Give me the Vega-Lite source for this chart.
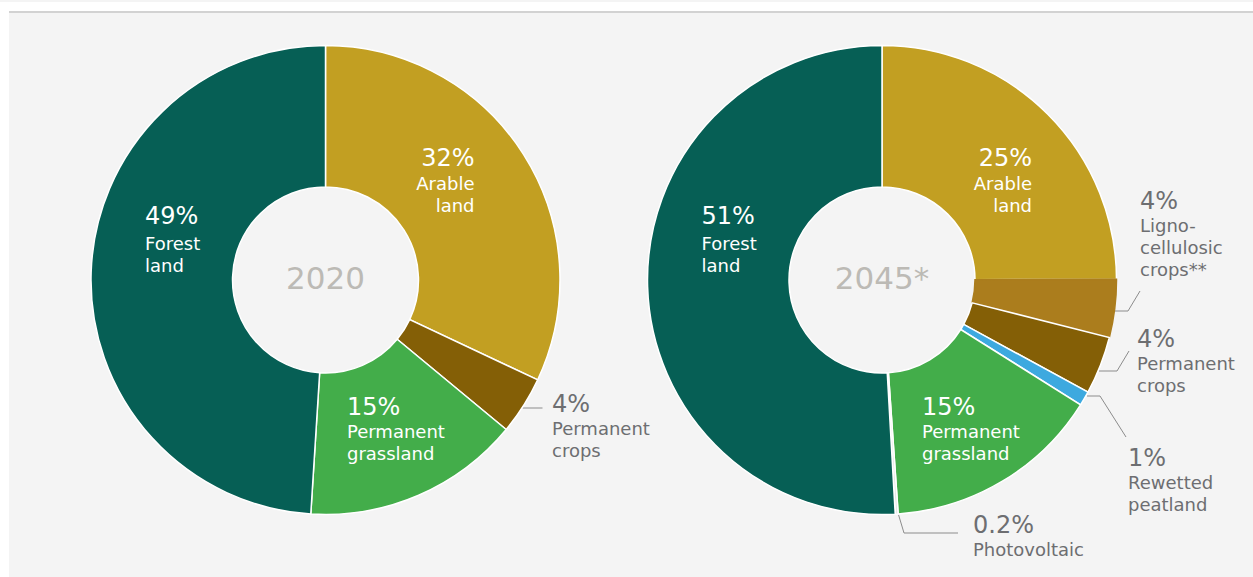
{
  "$schema": "https://vega.github.io/schema/vega-lite/v6.json",
  "background": "#f4f4f4",
  "padding": 0,
  "spacing": 0,
  "bounds": "flush",
  "config": {"view": {"stroke": null}, "concat": {"spacing": 0}, "text": {"font": "DejaVu Sans"}},
  "datasets": {
    "shares": [
      {"chart": "2020", "seq": 1, "category": "Arable land", "share": 32, "pct": "32%", "name": "Arable|land"},
      {"chart": "2020", "seq": 2, "category": "Permanent crops", "share": 4, "pct": "4%", "name": "Permanent|crops"},
      {"chart": "2020", "seq": 3, "category": "Permanent grassland", "share": 15, "pct": "15%", "name": "Permanent|grassland"},
      {"chart": "2020", "seq": 4, "category": "Forest land", "share": 49, "pct": "49%", "name": "Forest|land"},
      {"chart": "2045", "seq": 1, "category": "Arable land", "share": 25, "pct": "25%", "name": "Arable|land"},
      {"chart": "2045", "seq": 2, "category": "Lignocellulosic crops", "share": 4, "pct": "4%", "name": "Ligno-|cellulosic|crops**"},
      {"chart": "2045", "seq": 3, "category": "Permanent crops", "share": 4, "pct": "4%", "name": "Permanent|crops"},
      {"chart": "2045", "seq": 4, "category": "Rewetted peatland", "share": 1, "pct": "1%", "name": "Rewetted|peatland"},
      {"chart": "2045", "seq": 5, "category": "Permanent grassland", "share": 15, "pct": "15%", "name": "Permanent|grassland"},
      {"chart": "2045", "seq": 6, "category": "Photovoltaic", "share": 0.2, "pct": "0.2%", "name": "Photovoltaic"},
      {"chart": "2045", "seq": 7, "category": "Forest land", "share": 51, "pct": "51%", "name": "Forest|land"}
    ],
    "years": [
      {"chart": "2020", "label": "2020"},
      {"chart": "2045", "label": "2045*"}
    ],
    "callouts": [
      {"chart": "2020", "category": "Permanent crops", "pct": "4%", "name": "Permanent|crops", "lx": 226.5, "ly": 132},
      {"chart": "2045", "category": "Lignocellulosic crops", "pct": "4%", "name": "Ligno-|cellulosic|crops**", "lx": 258, "ly": -71},
      {"chart": "2045", "category": "Permanent crops", "pct": "4%", "name": "Permanent|crops", "lx": 255, "ly": 67},
      {"chart": "2045", "category": "Rewetted peatland", "pct": "1%", "name": "Rewetted|peatland", "lx": 246, "ly": 186},
      {"chart": "2045", "category": "Photovoltaic", "pct": "0.2%", "name": "Photovoltaic", "lx": 91, "ly": 253}
    ],
    "leaders": [
      {"chart": "2020", "category": "Permanent crops", "pt": 1, "x": 197, "y": 128},
      {"chart": "2020", "category": "Permanent crops", "pt": 2, "x": 217, "y": 128},
      {"chart": "2045", "category": "Lignocellulosic crops", "pt": 1, "x": 233, "y": 31},
      {"chart": "2045", "category": "Lignocellulosic crops", "pt": 2, "x": 246, "y": 31},
      {"chart": "2045", "category": "Lignocellulosic crops", "pt": 3, "x": 258, "y": 11},
      {"chart": "2045", "category": "Permanent crops", "pt": 1, "x": 217, "y": 91},
      {"chart": "2045", "category": "Permanent crops", "pt": 2, "x": 235, "y": 91},
      {"chart": "2045", "category": "Permanent crops", "pt": 3, "x": 247, "y": 71},
      {"chart": "2045", "category": "Rewetted peatland", "pt": 1, "x": 205, "y": 116},
      {"chart": "2045", "category": "Rewetted peatland", "pt": 2, "x": 218, "y": 116},
      {"chart": "2045", "category": "Rewetted peatland", "pt": 3, "x": 244, "y": 157},
      {"chart": "2045", "category": "Photovoltaic", "pt": 1, "x": 16, "y": 233},
      {"chart": "2045", "category": "Photovoltaic", "pt": 2, "x": 22, "y": 253},
      {"chart": "2045", "category": "Photovoltaic", "pt": 3, "x": 76, "y": 253}
    ]
  },
  "vconcat": [
    {"width": 1253, "height": 9, "view": {"fill": "#ffffff", "stroke": null}, "data": {"values": [{}]}, "mark": {"type": "text", "text": ""}, "encoding": {}},
    {
      "spacing": 0, "bounds": "flush",
      "hconcat": [
        {"width": 9, "height": 2, "view": {"fill": "#ffffff", "stroke": null}, "data": {"values": [{}]}, "mark": {"type": "text", "text": ""}, "encoding": {}},
        {"width": 1244, "height": 2, "view": {"fill": "#d2d2d2", "stroke": null}, "data": {"values": [{}]}, "mark": {"type": "text", "text": ""}, "encoding": {}}
      ]
    },
    {
      "spacing": 0, "bounds": "flush",
      "resolve": {"scale": {"theta": "independent", "x": "independent", "y": "independent", "color": "shared"}},
      "hconcat": [
        {"width": 9, "height": 566, "view": {"fill": "#ffffff", "stroke": null}, "data": {"values": [{}]}, "mark": {"type": "text", "text": ""}, "encoding": {}},
        {
          "width": 633, "height": 538,
          "layer": [
            {
              "data": {"name": "leaders"}, "transform": [{"filter": "datum.chart === '2020'"}],
              "mark": {"type": "line", "color": "#8c8c8c", "strokeWidth": 1},
              "encoding": {
                "x": {"field": "x", "type": "quantitative", "scale": {"domain": [-316.5, 316.5], "nice": false, "zero": false}, "axis": null},
                "y": {"field": "y", "type": "quantitative", "scale": {"domain": [-269, 269], "nice": false, "zero": false, "reverse": true}, "axis": null},
                "detail": {"field": "category"},
                "order": {"field": "pt", "type": "quantitative"}
              }
            },
            {
              "data": {"name": "shares"},
              "transform": [
                {"filter": "datum.chart === '2020'"},
                {"stack": "share", "groupby": ["chart"], "sort": [{"field": "seq", "order": "ascending"}], "as": ["s0", "s1"]}
              ],
              "mark": {"type": "arc", "outerRadius": 234.5, "innerRadius": 93, "strokeWidth": 1.5},
              "encoding": {
                "theta": {"field": "s0", "type": "quantitative", "stack": null},
                "theta2": {"field": "s1"},
                "stroke": {"condition": {"test": "datum.category === 'Lignocellulosic crops'", "value": "#ab7d1d"}, "value": "#ffffff"},
                "color": {"field": "category", "type": "nominal", "legend": null,
                  "scale": {"domain": ["Arable land", "Lignocellulosic crops", "Permanent crops", "Rewetted peatland", "Permanent grassland", "Photovoltaic", "Forest land"],
                            "range": ["#c29f22", "#ab7d1d", "#845f06", "#3da9df", "#43ad4a", "#e6e6e6", "#065f55"]}}
              }
            },
            {
              "data": {"name": "years"}, "transform": [{"filter": "datum.chart === '2020'"}],
              "mark": {"type": "text", "fontSize": 31, "color": "#bcbab5", "align": "center", "baseline": "middle", "font": "DejaVu Sans"},
              "encoding": {"text": {"field": "label", "type": "nominal"}}
            },
            {
              "data": {"name": "shares"},
              "transform": [
                {"filter": "datum.chart === '2020'"},
                {"stack": "share", "groupby": ["chart"], "sort": [{"field": "seq", "order": "ascending"}], "as": ["s0", "s1"]},
                {"filter": "datum.category === 'Forest land'"}
              ],
              "layer": [
                {"mark": {"type": "text", "radius": 56, "dx": -180.5, "align": "left", "baseline": "alphabetic", "fontSize": 24, "color": "#ffffff", "font": "DejaVu Sans"},
                 "encoding": {"theta": {"field": "s1", "type": "quantitative", "stack": null}, "text": {"field": "pct", "type": "nominal"}}},
                {"mark": {"type": "text", "radius": 56, "dx": -180.5, "dy": 26, "align": "left", "baseline": "alphabetic", "fontSize": 18, "lineHeight": 22, "lineBreak": "|", "color": "#ffffff", "font": "DejaVu Sans"},
                 "encoding": {"theta": {"field": "s1", "type": "quantitative", "stack": null}, "text": {"field": "name", "type": "nominal"}}}
              ]
            },
            {
              "data": {"name": "shares"},
              "transform": [
                {"filter": "datum.chart === '2020'"},
                {"stack": "share", "groupby": ["chart"], "sort": [{"field": "seq", "order": "ascending"}], "as": ["s0", "s1"]},
                {"filter": "datum.category === 'Arable land'"}
              ],
              "layer": [
                {"mark": {"type": "text", "radius": 114, "dx": 149, "align": "right", "baseline": "alphabetic", "fontSize": 24, "color": "#ffffff", "font": "DejaVu Sans"},
                 "encoding": {"theta": {"field": "s0", "type": "quantitative", "stack": null}, "text": {"field": "pct", "type": "nominal"}}},
                {"mark": {"type": "text", "radius": 114, "dx": 149, "dy": 24, "align": "right", "baseline": "alphabetic", "fontSize": 18, "lineHeight": 22, "lineBreak": "|", "color": "#ffffff", "font": "DejaVu Sans"},
                 "encoding": {"theta": {"field": "s0", "type": "quantitative", "stack": null}, "text": {"field": "name", "type": "nominal"}}}
              ]
            },
            {
              "data": {"name": "shares"},
              "transform": [
                {"filter": "datum.chart === '2020'"},
                {"stack": "share", "groupby": ["chart"], "sort": [{"field": "seq", "order": "ascending"}], "as": ["s0", "s1"]},
                {"filter": "datum.category === 'Permanent grassland'"}
              ],
              "layer": [
                {"mark": {"type": "text", "radius": 140.5, "dx": 30.3, "dy": -5.2, "align": "left", "baseline": "alphabetic", "fontSize": 24, "color": "#ffffff", "font": "DejaVu Sans"},
                 "encoding": {"theta": {"field": "s1", "type": "quantitative", "stack": null}, "text": {"field": "pct", "type": "nominal"}}},
                {"mark": {"type": "text", "radius": 140.5, "dx": 30.3, "dy": 18, "align": "left", "baseline": "alphabetic", "fontSize": 18, "lineHeight": 22, "lineBreak": "|", "color": "#ffffff", "font": "DejaVu Sans"},
                 "encoding": {"theta": {"field": "s1", "type": "quantitative", "stack": null}, "text": {"field": "name", "type": "nominal"}}}
              ]
            },
            {
              "data": {"name": "callouts"}, "transform": [{"filter": "datum.chart === '2020'"}],
              "mark": {"type": "text", "align": "left", "baseline": "alphabetic", "fontSize": 24, "color": "#6d6e71", "font": "DejaVu Sans"},
              "encoding": {
                "x": {"field": "lx", "type": "quantitative", "scale": {"domain": [-316.5, 316.5], "nice": false, "zero": false}, "axis": null},
                "y": {"field": "ly", "type": "quantitative", "scale": {"domain": [-269, 269], "nice": false, "zero": false, "reverse": true}, "axis": null},
                "text": {"field": "pct", "type": "nominal"}
              }
            },
            {
              "data": {"name": "callouts"}, "transform": [{"filter": "datum.chart === '2020'"}],
              "mark": {"type": "text", "align": "left", "baseline": "alphabetic", "dy": 22.5, "fontSize": 18, "lineHeight": 22, "lineBreak": "|", "color": "#6d6e71", "font": "DejaVu Sans"},
              "encoding": {
                "x": {"field": "lx", "type": "quantitative", "scale": {"domain": [-316.5, 316.5], "nice": false, "zero": false}, "axis": null},
                "y": {"field": "ly", "type": "quantitative", "scale": {"domain": [-269, 269], "nice": false, "zero": false, "reverse": true}, "axis": null},
                "text": {"field": "name", "type": "nominal"}
              }
            }
          ]
        },
        {
          "width": 480, "height": 538,
          "layer": [
            {
              "data": {"name": "leaders"}, "transform": [{"filter": "datum.chart === '2045'"}],
              "mark": {"type": "line", "color": "#8c8c8c", "strokeWidth": 1},
              "encoding": {
                "x": {"field": "x", "type": "quantitative", "scale": {"domain": [-240, 240], "nice": false, "zero": false}, "axis": null},
                "y": {"field": "y", "type": "quantitative", "scale": {"domain": [-269, 269], "nice": false, "zero": false, "reverse": true}, "axis": null},
                "detail": {"field": "category"},
                "order": {"field": "pt", "type": "quantitative"}
              }
            },
            {
              "data": {"name": "shares"},
              "transform": [
                {"filter": "datum.chart === '2045'"},
                {"stack": "share", "groupby": ["chart"], "sort": [{"field": "seq", "order": "ascending"}], "as": ["s0", "s1"]}
              ],
              "mark": {"type": "arc", "outerRadius": 234.5, "innerRadius": 93, "strokeWidth": 1.5},
              "encoding": {
                "theta": {"field": "s0", "type": "quantitative", "stack": null},
                "theta2": {"field": "s1"},
                "stroke": {"condition": {"test": "datum.category === 'Lignocellulosic crops'", "value": "#ab7d1d"}, "value": "#ffffff"},
                "color": {"field": "category", "type": "nominal", "legend": null,
                  "scale": {"domain": ["Arable land", "Lignocellulosic crops", "Permanent crops", "Rewetted peatland", "Permanent grassland", "Photovoltaic", "Forest land"],
                            "range": ["#c29f22", "#ab7d1d", "#845f06", "#3da9df", "#43ad4a", "#e6e6e6", "#065f55"]}}
              }
            },
            {
              "data": {"name": "years"}, "transform": [{"filter": "datum.chart === '2045'"}],
              "mark": {"type": "text", "fontSize": 31, "color": "#bcbab5", "align": "center", "baseline": "middle", "font": "DejaVu Sans"},
              "encoding": {"text": {"field": "label", "type": "nominal"}}
            },
            {
              "data": {"name": "shares"},
              "transform": [
                {"filter": "datum.chart === '2045'"},
                {"stack": "share", "groupby": ["chart"], "sort": [{"field": "seq", "order": "ascending"}], "as": ["s0", "s1"]},
                {"filter": "datum.category === 'Forest land'"}
              ],
              "layer": [
                {"mark": {"type": "text", "radius": 56, "dx": -180.5, "align": "left", "baseline": "alphabetic", "fontSize": 24, "color": "#ffffff", "font": "DejaVu Sans"},
                 "encoding": {"theta": {"field": "s1", "type": "quantitative", "stack": null}, "text": {"field": "pct", "type": "nominal"}}},
                {"mark": {"type": "text", "radius": 56, "dx": -180.5, "dy": 26, "align": "left", "baseline": "alphabetic", "fontSize": 18, "lineHeight": 22, "lineBreak": "|", "color": "#ffffff", "font": "DejaVu Sans"},
                 "encoding": {"theta": {"field": "s1", "type": "quantitative", "stack": null}, "text": {"field": "name", "type": "nominal"}}}
              ]
            },
            {
              "data": {"name": "shares"},
              "transform": [
                {"filter": "datum.chart === '2045'"},
                {"stack": "share", "groupby": ["chart"], "sort": [{"field": "seq", "order": "ascending"}], "as": ["s0", "s1"]},
                {"filter": "datum.category === 'Arable land'"}
              ],
              "layer": [
                {"mark": {"type": "text", "radius": 114, "dx": 150, "align": "right", "baseline": "alphabetic", "fontSize": 24, "color": "#ffffff", "font": "DejaVu Sans"},
                 "encoding": {"theta": {"field": "s0", "type": "quantitative", "stack": null}, "text": {"field": "pct", "type": "nominal"}}},
                {"mark": {"type": "text", "radius": 114, "dx": 150, "dy": 24, "align": "right", "baseline": "alphabetic", "fontSize": 18, "lineHeight": 22, "lineBreak": "|", "color": "#ffffff", "font": "DejaVu Sans"},
                 "encoding": {"theta": {"field": "s0", "type": "quantitative", "stack": null}, "text": {"field": "name", "type": "nominal"}}}
              ]
            },
            {
              "data": {"name": "shares"},
              "transform": [
                {"filter": "datum.chart === '2045'"},
                {"stack": "share", "groupby": ["chart"], "sort": [{"field": "seq", "order": "ascending"}], "as": ["s0", "s1"]},
                {"filter": "datum.category === 'Permanent grassland'"}
              ],
              "layer": [
                {"mark": {"type": "text", "radius": 140.5, "dx": 30.3, "dy": -5.2, "align": "left", "baseline": "alphabetic", "fontSize": 24, "color": "#ffffff", "font": "DejaVu Sans"},
                 "encoding": {"theta": {"field": "s1", "type": "quantitative", "stack": null}, "text": {"field": "pct", "type": "nominal"}}},
                {"mark": {"type": "text", "radius": 140.5, "dx": 30.3, "dy": 18, "align": "left", "baseline": "alphabetic", "fontSize": 18, "lineHeight": 22, "lineBreak": "|", "color": "#ffffff", "font": "DejaVu Sans"},
                 "encoding": {"theta": {"field": "s1", "type": "quantitative", "stack": null}, "text": {"field": "name", "type": "nominal"}}}
              ]
            },
            {
              "data": {"name": "callouts"}, "transform": [{"filter": "datum.chart === '2045'"}],
              "mark": {"type": "text", "align": "left", "baseline": "alphabetic", "fontSize": 24, "color": "#6d6e71", "font": "DejaVu Sans"},
              "encoding": {
                "x": {"field": "lx", "type": "quantitative", "scale": {"domain": [-240, 240], "nice": false, "zero": false}, "axis": null},
                "y": {"field": "ly", "type": "quantitative", "scale": {"domain": [-269, 269], "nice": false, "zero": false, "reverse": true}, "axis": null},
                "text": {"field": "pct", "type": "nominal"}
              }
            },
            {
              "data": {"name": "callouts"}, "transform": [{"filter": "datum.chart === '2045'"}],
              "mark": {"type": "text", "align": "left", "baseline": "alphabetic", "dy": 22.5, "fontSize": 18, "lineHeight": 22, "lineBreak": "|", "color": "#6d6e71", "font": "DejaVu Sans"},
              "encoding": {
                "x": {"field": "lx", "type": "quantitative", "scale": {"domain": [-240, 240], "nice": false, "zero": false}, "axis": null},
                "y": {"field": "ly", "type": "quantitative", "scale": {"domain": [-269, 269], "nice": false, "zero": false, "reverse": true}, "axis": null},
                "text": {"field": "name", "type": "nominal"}
              }
            }
          ]
        }
      ]
    }
  ]
}
